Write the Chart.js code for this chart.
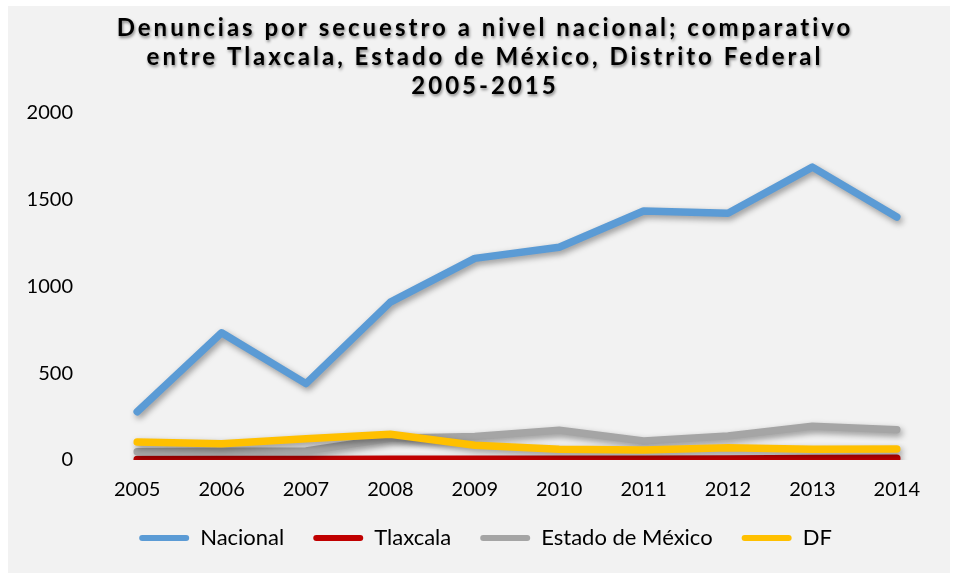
<!DOCTYPE html>
<html>
<head>
<meta charset="utf-8">
<script src="https://cdn.jsdelivr.net/npm/chart.js@4.4.1/dist/chart.umd.min.js"></script>
<style>
  html, body { margin: 0; padding: 0; background: #ffffff; }
  #caja {
    position: absolute; left: 8px; top: 6px;
    width: 942px; height: 567px;
    background: #f2f2f2;
  }
</style>
</head>
<body>
<div id="caja"><canvas id="grafica"></canvas></div>
<script>
/* ---------------- DATOS ---------------- */

const titulo = [
  "Denuncias por secuestro a nivel nacional; comparativo",
  "entre Tlaxcala, Estado de México, Distrito Federal",
  "2005-2015"
];

const anios = ["2005","2006","2007","2008","2009","2010","2011","2012","2013","2014"];

const nacional = [278, 733, 440, 910, 1162, 1226, 1435, 1422, 1688, 1400];
const tlaxcala = [3, 3, 3, 4, 4, 5, 5, 6, 8, 10];
const edomex   = [48, 50, 52, 125, 135, 171, 110, 138, 194, 175];
const df       = [104, 94, 122, 148, 85, 62, 58, 71, 62, 63];

const ticksY = [0, 500, 1000, 1500, 2000];

const fuente = "Lato, 'Open Sans', sans-serif";

/* ---------------- PLUGINS ---------------- */

// sombra suave bajo cada linea, como en Excel
const sombra = {
  id: "sombra",
  beforeDatasetDraw(chart) {
    const ctx = chart.ctx;
    ctx.save();
    ctx.shadowColor = "rgba(0,0,0,0.38)";
    ctx.shadowBlur = 6;
    ctx.shadowOffsetX = 2;
    ctx.shadowOffsetY = 3;
  },
  afterDatasetDraw(chart) {
    chart.ctx.restore();
  }
};

// titulo con espaciado entre letras y sombra
const tituloPlugin = {
  id: "tituloPlugin",
  afterDraw(chart) {
    const ctx = chart.ctx;
    const cx = chart.width / 2 + 6;
    const ys = [30, 59, 88];
    ctx.save();
    ctx.font = "bold 24px " + fuente;
    ctx.letterSpacing = "3px";
    ctx.fillStyle = "#000000";
    ctx.textAlign = "center";
    ctx.textBaseline = "alphabetic";
    ctx.shadowColor = "rgba(0,0,0,0.45)";
    ctx.shadowBlur = 3;
    ctx.shadowOffsetX = 1;
    ctx.shadowOffsetY = 2;
    titulo.forEach((t, i) => ctx.fillText(t, cx, ys[i]));
    ctx.restore();
  }
};

// la leyenda del original queda un poco a la derecha del centro
const moverLeyenda = {
  id: "moverLeyenda",
  afterLayout(chart) {
    chart.legend.left += 12;
    chart.legend.right += 12;
  }
};

/* ---------------- GRAFICA ---------------- */

function serie(label, data, color, orden) {
  return {
    label: label,
    data: data,
    borderColor: color,
    backgroundColor: color,
    borderWidth: 7.5,
    borderCapStyle: "round",
    borderJoinStyle: "round",
    pointRadius: 0,
    tension: 0,
    order: orden
  };
}

new Chart(document.getElementById("grafica"), {
  type: "line",
  data: {
    labels: anios,
    datasets: [
      serie("Nacional", nacional, "#5b9bd5", 3),
      serie("Tlaxcala", tlaxcala, "#c00000", 2),
      serie("Estado de México", edomex, "#a5a5a5", 1),
      serie("DF", df, "#ffc000", 0)
    ]
  },
  options: {
    responsive: true,
    maintainAspectRatio: false,
    animation: false,
    layout: { padding: { top: 107, right: 11, left: 0, bottom: 14 } },
    plugins: {
      title: { display: false },
      tooltip: { enabled: false },
      legend: {
        position: "bottom",
        labels: {
          color: "#000000",
          font: { family: fuente, size: 22 },
          boxWidth: 50,
          boxHeight: 6,
          useBorderRadius: true,
          borderRadius: 3,
          padding: 29,
          sort: (a, b) => a.datasetIndex - b.datasetIndex,
          generateLabels(chart) {
            return Chart.defaults.plugins.legend.labels.generateLabels(chart)
              .map(it => Object.assign(it, { lineWidth: 0 }));
          }
        }
      }
    },
    scales: {
      x: {
        offset: true,
        grid: { display: false, drawTicks: false },
        border: { display: false },
        ticks: {
          color: "#000000",
          font: { family: fuente, size: 20 },
          padding: 18,
          maxRotation: 0
        },
        afterFit(s) { s.height = 38; }
      },
      y: {
        min: 0,
        max: 2000,
        grid: { display: false, drawTicks: false },
        border: { display: false },
        afterBuildTicks(s) { s.ticks = ticksY.map(v => ({ value: v })); },
        ticks: {
          color: "#000000",
          font: { family: fuente, size: 20 },
          padding: 22,
          callback: v => String(v)
        },
        afterFit(s) { s.width = 87; }
      }
    }
  },
  plugins: [sombra, tituloPlugin, moverLeyenda]
});
</script>
</body>
</html>
